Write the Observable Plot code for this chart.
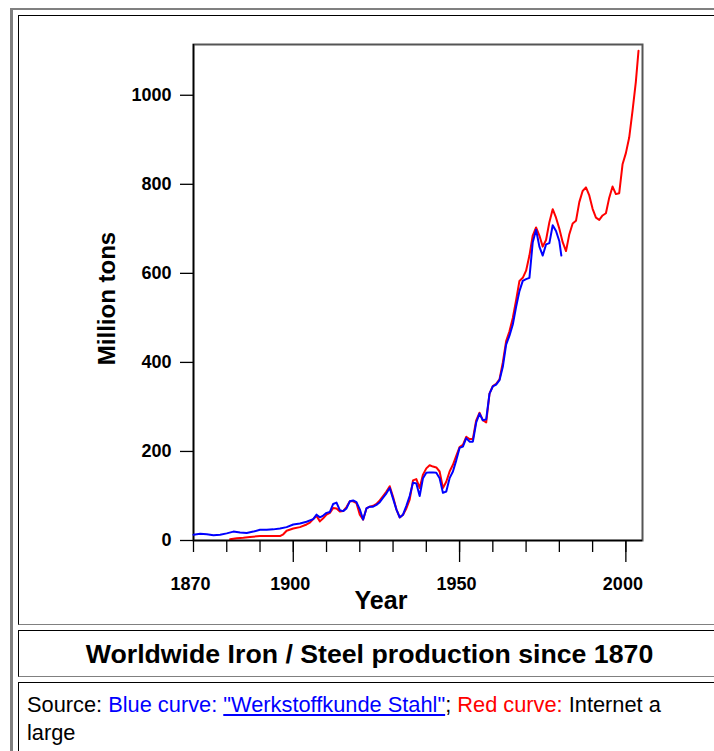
<!DOCTYPE html>
<html>
<head>
<meta charset="utf-8">
<script src="https://cdn.jsdelivr.net/npm/d3@7"></script>
<script src="https://cdn.jsdelivr.net/npm/@observablehq/plot@0.6"></script>
<style>
  html, body { margin: 0; padding: 0; overflow: hidden; background: #fff; width: 714px; height: 751px; }
  body { font-family: "Liberation Sans", Arial, sans-serif; position: relative; }
  .outer { position: absolute; left: 10px; top: 8px; width: 720px; height: 800px;
           border-left: 3px solid #808080; border-top: 2px solid #808080; box-sizing: border-box; }
  .cell { position: absolute; left: 18px; width: 703px; box-sizing: border-box;
          border-top: 1.3px solid #000; border-left: 1.3px solid #000;
          border-bottom: 1.3px solid #808080; border-right: 1.3px solid #808080; }
  #c1 { top: 15px; height: 610px; }
  #c2 { top: 630px; height: 47px; }
  #c3 { top: 682px; height: 120px; }
  #chart { position: absolute; left: 19px; top: 16px; width: 700px; height: 607px; }
  #chart svg { max-width: none !important; display: block; }
  .title { position: absolute; left: 0; right: 0; top: 0; text-align: center;
           font-weight: bold; font-size: 26.7px; line-height: 47px; color: #000; white-space: nowrap; }
  .src { position: absolute; left: 8px; top: 8px; font-size: 21.8px; line-height: 28px; color: #000; white-space: nowrap; }
  .blue { color: #0000ff; }
  .red { color: #ff0000; }
  a { color: #0000ff; text-decoration: underline; }
</style>
</head>
<body>
<div class="outer"></div>
<div class="cell" id="c1"></div>
<div class="cell" id="c2"><div class="title">Worldwide Iron / Steel production since 1870</div></div>
<div class="cell" id="c3"><div class="src">Source: <span class="blue">Blue curve: </span><a href="#">"Werkstoffkunde Stahl"</a>; <span class="red">Red curve:</span> Internet a<br>large</div></div>
<div id="chart"></div>
<script>
// Blue curve: "Werkstoffkunde Stahl"
const blueYears = [1870,1872,1874,1876,1878,1880,1882,1884,1886,1888,1890,1892,1894,1896,1898,
  1900,1902,1904,1906,1907,1908,1909,1910,1911,1912,1913,1914,1915,1916,1917,1918,1919,
  1920,1921,1922,1923,1924,1925,1926,1927,1928,1929,1930,1931,1932,1933,1934,1935,1936,1937,1938,1939,
  1940,1941,1942,1943,1944,1945,1946,1947,1948,1949,1950,1951,1952,1953,1954,1955,1956,1957,1958,1959,
  1960,1961,1962,1963,1964,1965,1966,1967,1968,1969,1970,1971,1972,1973,1974,1975,1976,1977,1978,1979,1980,1980.6];
const blueValues = [13,15,14,12,13,16,20,18,17,20,24,24,25,27,30,
  36,38,42,48,58,52,56,62,64,82,85,68,66,72,88,90,86,
  70,47,72,76,76,80,86,96,106,118,94,70,52,58,78,100,130,128,100,140,
  152,153,153,152,140,107,110,140,155,180,208,211,230,222,222,265,285,270,272,330,
  346,350,360,390,440,460,485,525,560,583,587,590,670,698,660,640,665,668,708,695,672,640];

// Red curve: Internet
const redYears = [1881,1883,1885,1887,1890,1893,1896,1897,1898,
  1900,1902,1904,1905,1906,1907,1908,1909,1910,1911,1912,1913,1914,1915,1916,1917,1918,1919,
  1920,1921,1922,1923,1924,1925,1926,1927,1928,1929,1930,1931,1932,1933,1934,1935,1936,1937,1938,1939,
  1940,1941,1942,1943,1944,1945,1946,1947,1948,1949,1950,1951,1952,1953,1954,1955,1956,1957,1958,1959,
  1960,1961,1962,1963,1964,1965,1966,1967,1968,1969,1970,1971,1972,1973,1974,1975,1976,1977,1978,1979,
  1980,1981,1982,1983,1984,1985,1986,1987,1988,1989,1990,1991,1992,1993,1994,1995,1996,1997,1998,1999,
  2000,2001,2002,2003,2003.8];
const redValues = [3,5,6,8,10,10,10,14,22,
  27,30,36,40,48,55,43,50,58,62,73,72,65,66,75,88,88,84,
  58,47,72,76,78,82,90,100,110,122,98,70,52,58,72,92,135,138,118,148,
  162,169,166,164,155,118,132,155,170,190,210,215,233,228,228,270,287,270,265,330,
  347,352,362,400,448,470,500,540,583,590,606,640,685,703,685,660,675,715,744,725,
  700,670,650,688,712,718,760,785,793,775,745,725,720,730,735,770,795,778,780,845,
  870,905,965,1030,1100];

const yTicks = [0, 200, 400, 600, 800, 1000];
const xMinorTicks = [1870,1880,1890,1900,1910,1920,1930,1940,1950,1960,1970,1980,1990,2000];
const xMajorTicks = [1900, 1950, 2000];
const xTickLabels = [1870, 1900, 1950, 2000];

const blue = blueYears.map((y, i) => ({year: y, value: blueValues[i]}));
const red = redYears.map((y, i) => ({year: y, value: redValues[i]}));

const chart = Plot.plot({
  width: 700,
  height: 607,
  marginLeft: 174,
  marginRight: 77,
  marginTop: 28,
  marginBottom: 83,
  style: {fontFamily: "'Liberation Sans', Arial, sans-serif", color: "#000", background: "transparent", overflow: "visible"},
  x: {domain: [1870, 2005], label: null},
  y: {domain: [0, 1114], label: null},
  marks: [
    Plot.frame({stroke: "#555", strokeWidth: 2}),
    Plot.ruleX([1870], {stroke: "#000", strokeWidth: 1.5}),
    Plot.axisY(yTicks, {tickSize: 13, tickPadding: 9, tickFormat: d => String(d), fontSize: 18, fontWeight: "bold", label: null, strokeWidth: 1.3}),
    Plot.axisX(xMinorTicks, {tickSize: 12, tickFormat: () => "", label: null, strokeWidth: 1.3}),
    Plot.axisX(xMajorTicks, {tickSize: 22, tickFormat: () => "", label: null, strokeWidth: 1.3}),
    Plot.axisX(xTickLabels, {tickSize: 0, tickPadding: 37, tickFormat: d => String(d), fontSize: 18, fontWeight: "bold", label: null, dx: -3}),
    Plot.lineY(red, {x: "year", y: "value", stroke: "#ff0000", strokeWidth: 2}),
    Plot.lineY(blue, {x: "year", y: "value", stroke: "#0000ff", strokeWidth: 2}),
    Plot.ruleY([0], {stroke: "#000", strokeWidth: 1.5}),
    Plot.text(["Year"], {text: d => d, frameAnchor: "bottom", textAnchor: "middle", lineAnchor: "middle", dx: -37, dy: 60, fontSize: 25, fontWeight: "bold"}),
    Plot.text(["Million tons"], {text: d => d, frameAnchor: "left", textAnchor: "middle", lineAnchor: "middle", rotate: -90, dx: -86, dy: 6, fontSize: 24, fontWeight: "bold"})
  ]
});
document.getElementById("chart").appendChild(chart);
</script>
</body>
</html>
